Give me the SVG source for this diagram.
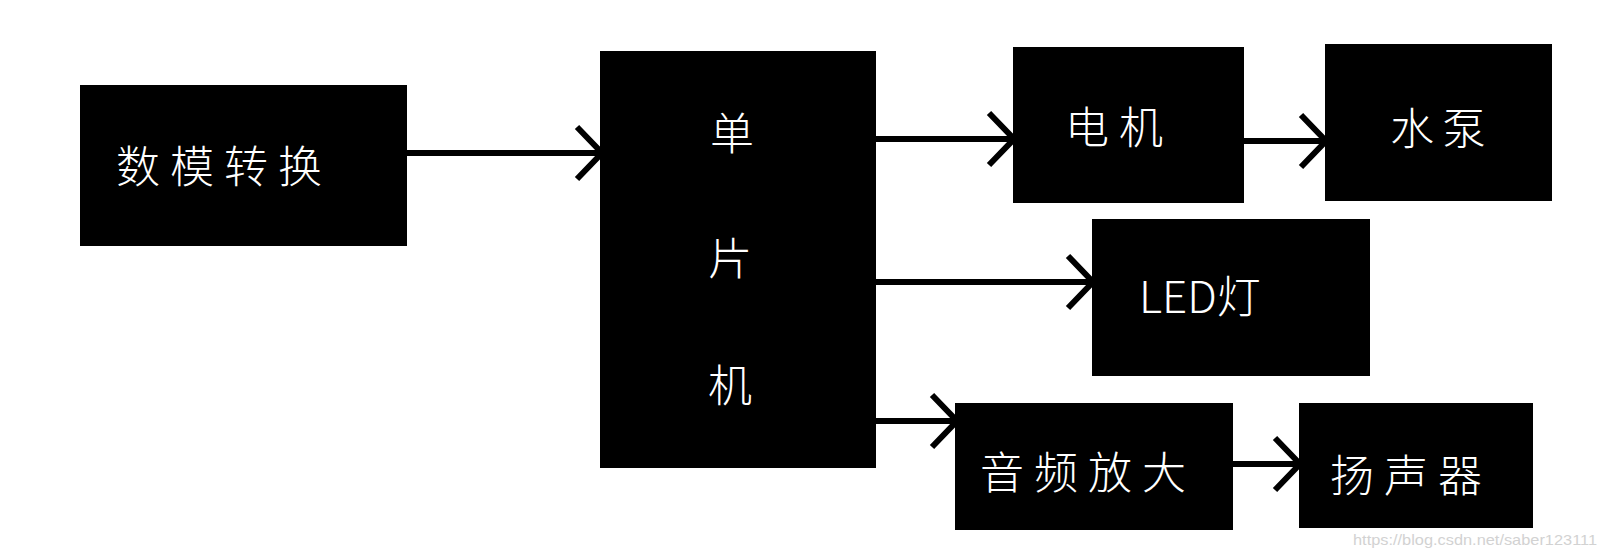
<svg xmlns="http://www.w3.org/2000/svg" width="1600" height="557" viewBox="0 0 1600 557">
  <defs>
    <style>
      .box { fill: #000; }
      .lbl { fill: #fff; font-family: "Noto Sans CJK SC", "Noto Sans", sans-serif; font-size: 44px; font-weight: 300; letter-spacing: 10px; }
      .conn { stroke: #000; stroke-width: 6; fill: none; }
      .wm { fill: #d2d2d2; font-family: "Liberation Sans", Arial, sans-serif; font-size: 15px; }
    </style>
    <marker id="chev" markerUnits="userSpaceOnUse" markerWidth="40" markerHeight="70" viewBox="-32 -32 40 64" refX="0" refY="0" orient="auto">
      <path d="M -25 -26 L 0 0 L -25 26" fill="none" stroke="#000" stroke-width="6"/>
    </marker>
  </defs>
  <rect width="1600" height="557" fill="#fff"/>

  <g id="node-dac">
    <rect class="box" x="80" y="85" width="327" height="161"/>
    <text class="lbl" x="116" y="183">数模转换</text>
  </g>
  <g id="node-mcu">
    <rect class="box" x="600" y="51" width="276" height="417"/>
    <text class="lbl" x="732" y="150" text-anchor="middle" style="letter-spacing:0">单</text>
    <text class="lbl" x="730" y="275" text-anchor="middle" style="letter-spacing:0">片</text>
    <text class="lbl" x="730" y="402" text-anchor="middle" style="letter-spacing:0">机</text>
  </g>
  <g id="node-motor">
    <rect class="box" x="1013" y="47" width="231" height="156"/>
    <text class="lbl" x="1065" y="144">电机</text>
  </g>
  <g id="node-pump">
    <rect class="box" x="1325" y="44" width="227" height="157"/>
    <text class="lbl" x="1390" y="145" style="letter-spacing:8px">水泵</text>
  </g>
  <g id="node-led">
    <rect class="box" x="1092" y="219" width="278" height="157"/>
    <text class="lbl" x="1139" y="313" style="letter-spacing:0">LED灯</text>
  </g>
  <g id="node-amp">
    <rect class="box" x="955" y="403" width="278" height="127"/>
    <text class="lbl" x="980" y="489">音频放大</text>
  </g>
  <g id="node-speaker">
    <rect class="box" x="1299" y="403" width="234" height="125"/>
    <text class="lbl" x="1330" y="492">扬声器</text>
  </g>

  <g id="connectors">
    <line class="conn" x1="407" y1="153" x2="602" y2="153" marker-end="url(#chev)"/>
    <line class="conn" x1="876" y1="139" x2="1014" y2="139" marker-end="url(#chev)"/>
    <line class="conn" x1="1244" y1="141" x2="1326" y2="141" marker-end="url(#chev)"/>
    <line class="conn" x1="876" y1="282" x2="1093" y2="282" marker-end="url(#chev)"/>
    <line class="conn" x1="876" y1="421" x2="957" y2="421" marker-end="url(#chev)"/>
    <line class="conn" x1="1233" y1="464" x2="1300" y2="464" marker-end="url(#chev)"/>
  </g>

  <text class="wm" x="1353" y="545" textLength="244" lengthAdjust="spacingAndGlyphs">https://blog.csdn.net/saber123111</text>
</svg>
